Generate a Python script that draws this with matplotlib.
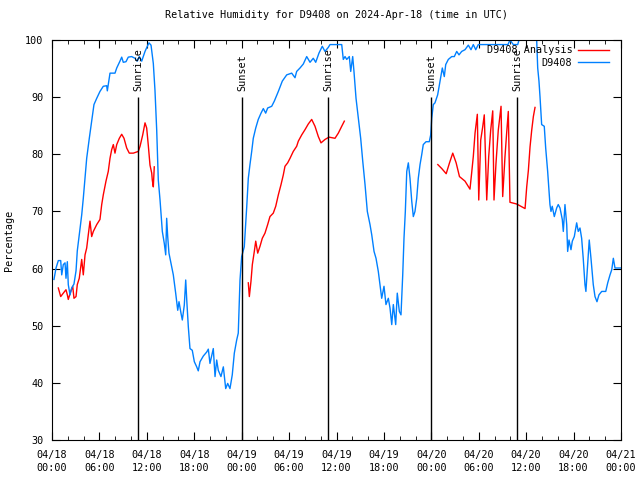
import numpy as np
import matplotlib
matplotlib.use("Agg")
import matplotlib.pyplot as plt
from matplotlib.ticker import MultipleLocator

# hours since 2024-04-18 00:00 UTC
obs_hours = [0.25, 0.51, 0.80, 1.10, 1.23, 1.43, 1.65, 1.77, 1.94, 2.06, 2.28, 2.49, 2.78, 3.04, 3.20,
             3.45, 3.76, 3.96, 4.18, 4.39, 4.72, 5.02, 5.31, 5.66, 6.07, 6.49, 6.92, 7.00, 7.25, 7.34,
             7.97, 8.19, 8.60, 8.82, 9.02, 9.36, 9.65, 10.08, 10.50, 10.79, 11.05, 11.35, 11.77, 12.06,
             12.27, 12.53, 12.82, 13.03, 13.25, 13.45, 13.67, 13.79, 13.96, 14.21, 14.39, 14.51, 14.64,
             14.80, 15.06, 15.35, 15.65, 15.91, 16.07, 16.32, 16.49, 16.74, 16.92, 17.05, 17.25, 17.46,
             17.75, 18.01, 18.31, 18.51, 18.73, 19.15, 19.58, 19.78, 19.99, 20.41, 20.63, 20.84, 21.04,
             21.38, 21.68, 21.98, 22.23, 22.52, 22.81, 23.07, 23.37, 23.57, 23.79, 24.00, 24.33, 24.64,
             24.84, 25.05, 25.27, 25.47, 25.78, 26.10, 26.45, 26.74, 27.04, 27.29, 27.80, 28.13, 28.64,
             29.14, 29.70, 30.33, 30.75, 30.96, 31.38, 31.80, 32.23, 32.65, 33.06, 33.37, 33.78, 34.20,
             34.54, 34.96, 35.18, 36.66, 36.86, 37.08, 37.29, 37.62, 37.80, 38.05, 38.21, 38.47, 38.76,
             39.06, 39.32, 39.61, 39.90, 40.24, 40.46, 40.75, 41.00, 41.29, 41.50, 41.72, 42.01, 42.26,
             42.56, 42.77, 42.99, 43.19, 43.49, 43.69, 43.95, 44.16, 44.38, 44.54, 44.71, 44.89, 45.09,
             45.30, 45.52, 45.72, 45.93, 46.15, 46.35, 46.57, 46.78, 46.98, 47.33, 47.74, 47.92, 48.05,
             48.25, 48.46, 48.80, 49.10, 49.39, 49.64, 49.82, 50.15, 50.58, 50.91, 51.21, 51.50, 51.84,
             52.26, 52.68, 53.02, 53.31, 53.62, 53.94, 57.70, 57.95, 58.37, 58.93, 59.09, 61.33, 61.46,
             61.62, 61.75, 61.96, 62.29, 62.47, 62.72, 62.89, 63.01, 63.14, 63.30, 63.56, 63.86, 64.06,
             64.28, 64.57, 64.70, 64.91, 65.13, 65.25, 65.42, 65.67, 65.84, 66.09, 66.39, 66.59, 66.81,
             67.02, 67.22, 67.44, 67.56, 67.78, 67.98, 68.20, 68.49, 68.71, 68.96, 69.21, 69.56, 70.07,
             70.32, 70.61, 70.83, 71.03, 71.24, 72.00]
obs_rh = [58.1, 60.1, 61.4, 61.4, 58.9, 60.7, 61.0, 58.3, 61.2, 57.2, 55.4, 56.6, 57.3, 59.6, 63.1,
          65.9, 69.4, 72.3, 75.8, 79.3, 82.8, 85.8, 88.7, 89.8, 91.0, 91.9, 92.0, 91.1, 93.4, 94.2,
          94.2, 95.1, 96.3, 97.0, 96.1, 96.2, 97.0, 97.1, 96.8, 96.3, 97.1, 96.3, 98.0, 98.9,
          99.5, 99.1, 95.9, 91.2, 84.2, 75.5, 72.0, 69.7, 66.5, 64.4, 62.4, 68.8, 65.6,
          62.7, 60.9, 58.9, 55.7, 52.7, 54.2, 52.2, 51.0, 53.6, 58.0, 54.5, 49.8, 46.0,
          45.7, 43.7, 42.8, 42.1, 43.7, 44.7, 45.4, 45.9, 43.4, 46.0, 41.1, 44.0, 42.2,
          41.1, 42.8, 39.0, 39.9, 39.0, 41.4, 45.2, 47.5, 48.7, 58.0, 62.1, 63.8, 70.8,
          75.8, 78.2, 80.5, 82.8, 84.6, 86.1, 87.2, 88.0, 87.2, 88.1, 88.4, 89.3, 91.0,
          92.8, 93.9, 94.2, 93.4, 94.5, 95.1, 95.8, 97.1, 96.1, 96.8, 96.1, 97.7, 98.9,
          98.0, 98.7, 99.2, 99.2, 96.6, 97.1, 96.6, 97.1, 94.5, 97.1, 94.5, 89.8, 86.3,
          82.8, 78.8, 74.7, 70.0, 67.7, 65.9, 63.0, 61.8, 59.5, 57.2, 54.8, 56.9, 53.7,
          54.8, 53.1, 50.2, 53.7, 50.2, 55.7, 52.5, 51.9, 58.9, 65.3, 70.0, 77.0, 78.5,
          75.8, 71.8, 69.1, 70.0, 72.3, 75.8, 78.2, 79.9, 81.7, 82.2, 82.2, 83.4, 86.3,
          88.7, 89.0, 90.4, 92.8, 95.1, 93.6, 95.7, 96.6, 97.1, 97.1, 98.0, 97.4, 98.0,
          98.3, 99.1, 98.3, 99.2, 98.3, 99.2, 99.2, 100.0, 99.2, 99.2, 100.0, 100.0, 95.1,
          92.8, 90.1, 85.2, 84.9, 81.1, 77.0, 73.5, 71.2, 70.0, 70.9, 69.1, 70.6, 71.2,
          70.6, 68.6, 66.5, 71.2, 67.7, 63.0, 65.0, 63.3, 64.8, 65.6, 68.0, 66.5, 67.1,
          65.3, 61.8, 57.2, 56.0, 60.7, 65.0, 61.8, 57.2, 55.1, 54.2, 55.4, 56.0, 56.0,
          57.5, 58.9, 59.8, 61.8, 60.1, 60.1]

# analysis series, three separate stretches
ana1_hours = [0.80, 1.10, 1.43, 1.77, 1.94, 2.06, 2.37, 2.62, 2.78, 3.04, 3.20, 3.45, 3.76, 3.96,
              4.18, 4.39, 4.59, 4.81, 5.02, 5.23, 5.66, 6.07, 6.29, 6.49, 6.83, 7.12, 7.34, 7.55,
              7.76, 7.97, 8.19, 8.52, 8.82, 9.11, 9.45, 9.78, 10.29, 10.92, 11.14, 11.48, 11.77,
              11.98, 12.19, 12.40, 12.62, 12.69, 12.82, 12.94]
ana1_rh = [56.6, 55.1, 55.7, 56.3, 55.4, 54.6, 56.0, 56.9, 54.8, 55.1, 57.2, 58.3, 61.6, 58.9,
           62.4, 63.6, 65.9, 68.3, 65.6, 66.5, 67.7, 68.6, 71.2, 72.9, 75.3, 77.0, 79.3, 80.8,
           81.7, 80.2, 81.7, 82.8, 83.5, 82.8, 81.1, 80.2, 80.2, 80.5, 81.4, 83.4, 85.5,
           84.6, 81.5, 78.1, 76.7, 75.5, 74.3, 77.8]
ana2_hours = [24.84, 24.97, 25.18, 25.35, 25.60, 25.78, 26.03, 26.32, 26.61, 26.95, 27.29, 27.58,
              28.00, 28.31, 28.64, 28.98, 29.27, 29.48, 29.82, 30.12, 30.53, 30.96, 31.17, 31.60,
              32.01, 32.43, 32.86, 33.28, 33.70, 34.04, 34.55, 35.05, 35.81, 36.23, 36.66, 36.99]
ana2_rh = [57.5, 55.1, 57.8, 60.7, 63.0, 64.8, 62.7, 63.9, 65.3, 66.2, 67.7, 69.1,
           69.7, 70.9, 72.9, 74.7, 76.4, 77.9, 78.5, 79.3, 80.5, 81.4, 82.3, 83.4,
           84.3, 85.3, 86.1, 84.9, 83.1, 82.0, 82.6, 83.0, 82.8, 83.7, 84.9, 85.8]
ana3_hours = [48.82, 49.32, 49.88, 50.30, 50.71, 51.14, 51.56, 52.26, 52.89, 53.10, 53.31, 53.53,
              53.82, 54.00, 54.25, 54.50, 54.70, 55.01, 55.26, 55.51, 55.77, 55.93, 56.18, 56.47,
              56.82, 57.03, 57.32, 57.53, 57.74, 57.95, 58.80, 59.86, 60.07, 60.28, 60.49, 60.70,
              60.91, 61.12]
ana3_rh = [78.2, 77.5, 76.6, 78.5, 80.2, 78.5, 76.1, 75.3, 73.9, 76.7, 79.6, 83.7,
           87.0, 72.0, 82.5, 84.8, 86.9, 72.0, 79.6, 84.2, 87.6, 72.0, 78.4, 84.2,
           88.4, 72.6, 79.6, 83.7, 87.5, 71.6, 71.3, 70.5, 74.3, 77.2, 81.3, 84.2,
           86.6, 88.2]

sun_hours = [10.88, 24.04, 34.92, 47.96, 58.84]
sun_labels = ["Sunrise", "Sunset", "Sunrise", "Sunset", "Sunrise"]

tick_hours = [0, 6, 12, 18, 24, 30, 36, 42, 48, 54, 60, 66, 72]
tick_labels = ["04/18\n00:00", "04/18\n06:00", "04/18\n12:00", "04/18\n18:00",
               "04/19\n00:00", "04/19\n06:00", "04/19\n12:00", "04/19\n18:00",
               "04/20\n00:00", "04/20\n06:00", "04/20\n12:00", "04/20\n18:00",
               "04/21\n00:00"]

fs = 7.3
plt.rcParams['font.family'] = ['DejaVu Sans Mono']
plt.rcParams['font.size'] = fs

fig = plt.figure(figsize=(6.4, 4.8), dpi=100)
ax = fig.add_axes([52/640, 40/480, 569/640, 400/480])

# analysis drawn as one line with gaps
ana_x = ana1_hours + [np.nan] + ana2_hours + [np.nan] + ana3_hours
ana_y = ana1_rh + [np.nan] + ana2_rh + [np.nan] + ana3_rh
ax.plot(ana_x, ana_y, color='#ff0000', lw=1, label='D9408 Analysis')
ax.plot(obs_hours, obs_rh, color='#0080ff', lw=1, label='D9408')

for h, lab in zip(sun_hours, sun_labels):
    ax.vlines(h, 30, 90, color='black', lw=1)
    ax.text(h + 0.1, 91, lab, rotation=90, ha='center', va='bottom', fontsize=fs)

ax.set_xlim(0, 72)
ax.set_ylim(30, 100)
ax.set_xticks(tick_hours)
ax.set_xticklabels(tick_labels, linespacing=1.35)
ax.xaxis.set_minor_locator(MultipleLocator(2))
ax.set_yticks(np.arange(30, 101, 10))
ax.tick_params(which='both', direction='in', top=True, right=True)
ax.tick_params(which='major', length=6)
ax.tick_params(which='minor', length=3)
ax.tick_params(axis='x', pad=7)
ax.tick_params(axis='y', pad=6)
ax.set_ylabel('Percentage')
ax.yaxis.set_label_coords(-0.067, 0.5)
ax.set_title('Relative Humidity for D9408 on 2024-Apr-18 (time in UTC)', fontsize=fs, pad=16)

ax.legend(loc='upper right', bbox_to_anchor=(1 - 5/569, 1 + 2/400), frameon=False,
          markerfirst=False, handlelength=3.0, borderaxespad=0.3, labelspacing=0.25,
          handletextpad=0.6, fontsize=fs)

fig.savefig('out.png', dpi=100)
